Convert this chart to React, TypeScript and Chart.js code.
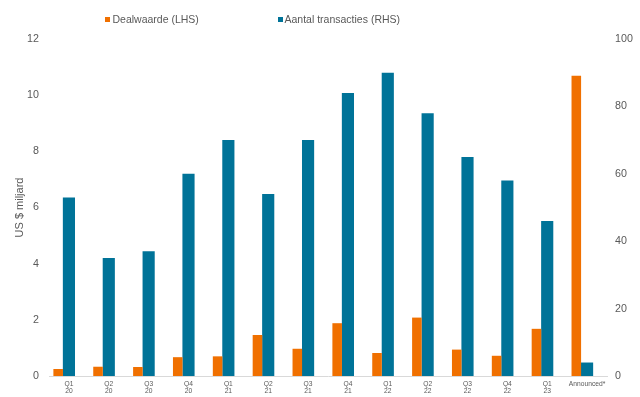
import React, { useEffect, useRef } from "react";
import { Chart, registerables } from "chart.js";

Chart.register(...registerables);

const categories: (string | string[])[] = [
  ["Q1", "20"], ["Q2", "20"], ["Q3", "20"], ["Q4", "20"],
  ["Q1", "21"], ["Q2", "21"], ["Q3", "21"], ["Q4", "21"],
  ["Q1", "22"], ["Q2", "22"], ["Q3", "22"], ["Q4", "22"],
  ["Q1", "23"], "Announced*",
];
const dealValue = [0.25, 0.33, 0.32, 0.67, 0.7, 1.46, 0.97, 1.88, 0.82, 2.08, 0.94, 0.72, 1.68, 10.69];
const dealCount = [53, 35, 37, 60, 70, 54, 70, 84, 90, 78, 65, 58, 46, 4];
const seriesNames = ["Dealwaarde (LHS)", "Aantal transacties (RHS)"];
const leftAxisTitle = "US $ miljard";

const ORANGE = "#F07000";
const BLUE = "#007398";
const GREY = "#595959";
const FONT = "'Liberation Sans', Arial, sans-serif";

export default function App() {
  const ref = useRef<HTMLCanvasElement | null>(null);

  useEffect(() => {
    if (!ref.current) return;
    const shift = 0.27;
    const chart = new Chart(ref.current, {
      type: "bar",
      data: {
        labels: categories as any,
        datasets: [
          {
            label: seriesNames[0],
            data: dealValue.map((v, i) => ({ x: i, y: v })) as any,
            backgroundColor: ORANGE,
            xAxisID: "x2",
            yAxisID: "y",
            grouped: false,
            categoryPercentage: 1,
            barPercentage: 0.24,
          },
          {
            label: seriesNames[1],
            data: dealCount,
            backgroundColor: BLUE,
            xAxisID: "x",
            yAxisID: "y1",
            grouped: false,
            categoryPercentage: 1,
            barPercentage: 0.305,
          },
        ],
      },
      options: {
        animation: false,
        responsive: false,
        layout: { padding: { top: 39, left: 0, right: 0, bottom: 0 } },
        plugins: { legend: { display: false }, tooltip: { enabled: false } },
        scales: {
          x: {
            type: "category",
            position: "bottom",
            offset: true,
            grid: { display: false, drawTicks: false },
            border: { display: true, color: "#D9D9D9", width: 1 },
            ticks: {
              color: GREY,
              font: { family: FONT, size: 6.7, lineHeight: 1.0 },
              padding: 5,
              maxRotation: 0,
              minRotation: 0,
              autoSkip: false,
            },
            afterFit: (s: any) => { s.height = 21; },
          },
          x2: {
            type: "linear",
            display: false,
            offset: false,
            min: -0.5 + shift,
            max: 13.5 + shift,
            ticks: { stepSize: 1, includeBounds: false },
            grid: { display: false },
          },
          y: {
            type: "linear",
            position: "left",
            min: 0,
            max: 12,
            ticks: {
              stepSize: 2,
              color: GREY,
              font: { family: FONT, size: 10.7 },
              padding: 10,
            },
            grid: { display: false, drawTicks: false },
            border: { display: false },
            title: {
              display: true,
              text: leftAxisTitle,
              color: GREY,
              font: { family: FONT, size: 11 },
              padding: { top: 13.5, bottom: 0 },
            },
            afterFit: (s: any) => { s.width = 49; },
          },
          y1: {
            type: "linear",
            position: "right",
            min: 0,
            max: 100,
            ticks: {
              stepSize: 20,
              color: GREY,
              font: { family: FONT, size: 10.7 },
              padding: 8,
            },
            grid: { display: false, drawTicks: false },
            border: { display: false },
            afterFit: (s: any) => { s.width = 33; },
          },
        },
      },
    });
    return () => chart.destroy();
  }, []);

  const textStyle: React.CSSProperties = {
    position: "absolute",
    top: 13,
    fontFamily: FONT,
    fontSize: "10.5px",
    lineHeight: "12px",
    color: GREY,
    whiteSpace: "nowrap",
  };
  const sq = (left: number, color: string): React.CSSProperties => ({
    position: "absolute",
    left,
    top: 16.7,
    width: 5,
    height: 5,
    background: color,
  });

  return (
    <div style={{ position: "absolute", left: 0, top: 0, width: 640, height: 397, background: "#fff", overflow: "hidden" }}>
      <canvas ref={ref} width={640} height={397} style={{ display: "block" }} />
      <div style={sq(105, ORANGE)} />
      <div style={{ ...textStyle, left: 112.5 }}>{seriesNames[0]}</div>
      <div style={sq(278, BLUE)} />
      <div style={{ ...textStyle, left: 284.5 }}>{seriesNames[1]}</div>
    </div>
  );
}
